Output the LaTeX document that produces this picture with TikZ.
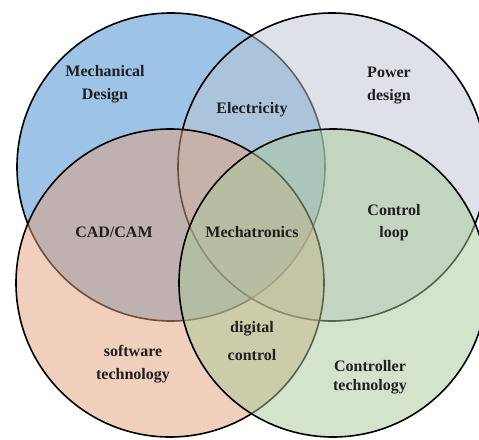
\documentclass[tikz,border=0pt]{standalone}
\usepackage{fontspec}
\setmainfont{Liberation Serif}

\definecolor{mechblue}{RGB}{59,135,205}
\definecolor{powergray}{RGB}{189,197,209}
\definecolor{softpeach}{RGB}{225,161,121}
\definecolor{ctrlgreen}{RGB}{169,201,153}

\tikzset{
	venn/.style={line width=1.6pt, draw=black, fill opacity=0.5},
	topic/.style={align=center, text=black!88, font=\bfseries\fontsize{16}{23}\selectfont},
}

\begin{document}
\begin{tikzpicture}[x=1pt, y=-1pt]
		%%%%% START %%%%%
		
		\useasboundingbox (0, 0) rectangle (479, 439);
		\clip (0, 0) rectangle (479, 439);
		
		\draw[venn, fill=mechblue] (171, 167) circle (154);
		\draw[venn, fill=powergray] (332, 167) circle (154);
		\draw[venn, fill=softpeach] (170, 283) circle (154);
		\draw[venn, fill=ctrlgreen] (333, 283) circle (154);
		
		\node[topic] (mech) at (105, 84) {Mechanical\\Design};
		\node[topic] (elec) at (252, 110) {Electricity};
		\node[topic] (power) at (389, 86) {Power\\design};
		
		\node[topic] (cad) at (114, 232) {CAD/CAM};
		\node[topic] (mtron) at (252, 232) {Mechatronics};
		\node[topic, font=\bfseries\fontsize{16}{22}\selectfont] (loop) at (394, 223) {Control\\loop};
		
		\node[topic, font=\bfseries\fontsize{16}{28}\selectfont] (digi) at (252, 341) {digital\\control};
		\node[topic] (soft) at (133, 364) {software\\technology};
		\node[topic, font=\bfseries\fontsize{16}{19}\selectfont] (ctrl) at (370, 377) {Controller\\technology};
		
		%%%%% END %%%%%
	\end{tikzpicture}
\end{document}
